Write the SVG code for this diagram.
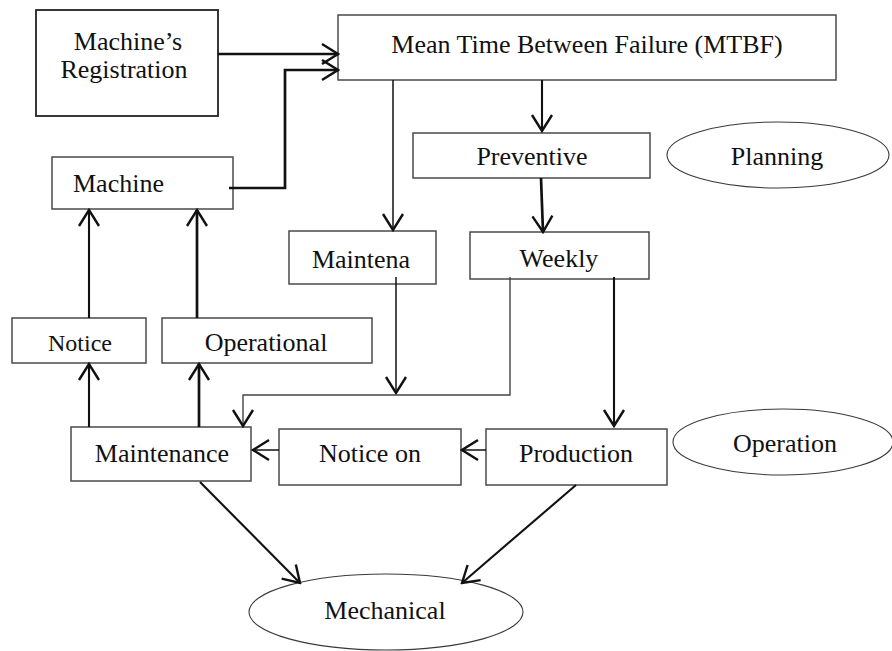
<svg xmlns="http://www.w3.org/2000/svg" width="892" height="651" viewBox="0 0 892 651">
  <style>
    .box { fill: #ffffff; stroke: #4a4a4a; stroke-width: 1.5; }
    .oval { fill: #ffffff; stroke: #3a3a3a; stroke-width: 1.1; }
    .lbl { font-family: "Liberation Serif", "Times New Roman", serif; font-size: 26px; fill: #111111; text-anchor: middle; }
    .edge { fill: none; stroke: #111111; stroke-linecap: butt; stroke-linejoin: miter; }
    .thick { stroke-width: 2.7; }
    .mid { stroke-width: 2.1; }
    .thin { stroke-width: 1.5; }
    .grey { stroke: #444444; stroke-width: 1.4; }
  </style>
  <defs>
    <marker id="open" viewBox="0 0 20 24" refX="18" refY="12" markerWidth="20" markerHeight="24" markerUnits="userSpaceOnUse" orient="auto">
      <path d="M2,2 L18,12 L2,22" fill="none" stroke="#111111" stroke-width="2.4"/>
    </marker>
  </defs>

  <rect width="892" height="651" fill="#ffffff"/>

  <!-- nodes -->
  <g id="registration">
    <rect class="box" x="36" y="10" width="182" height="106" style="stroke:#222;stroke-width:1.8"/>
    <text class="lbl" x="128" y="50">Machine’s</text>
    <text class="lbl" x="124" y="78">Registration</text>
  </g>
  <g id="mtbf">
    <rect class="box" x="338" y="15" width="498" height="65"/>
    <text class="lbl" x="587" y="53">Mean Time Between Failure (MTBF)</text>
  </g>
  <g id="machine">
    <rect class="box" x="52" y="157" width="181" height="52"/>
    <text class="lbl" x="73" y="192" style="text-anchor:start">Machine</text>
  </g>
  <g id="preventive">
    <rect class="box" x="413" y="133" width="237" height="45"/>
    <text class="lbl" x="532" y="165">Preventive</text>
  </g>
  <g id="planning">
    <ellipse class="oval" cx="778" cy="155" rx="111" ry="33"/>
    <text class="lbl" x="777" y="165">Planning</text>
  </g>
  <g id="maintena">
    <rect class="box" x="289" y="231" width="147" height="53"/>
    <text class="lbl" x="361" y="268">Maintena</text>
  </g>
  <g id="weekly">
    <rect class="box" x="470" y="232" width="179" height="47"/>
    <text class="lbl" x="559" y="267">Weekly</text>
  </g>
  <g id="notice">
    <rect class="box" x="12" y="318" width="134" height="45"/>
    <text class="lbl" x="80" y="351" style="font-size:24px">Notice</text>
  </g>
  <g id="operational">
    <rect class="box" x="162" y="318" width="210" height="45"/>
    <text class="lbl" x="266" y="351">Operational</text>
  </g>
  <g id="maintenance">
    <rect class="box" x="71" y="427" width="180" height="54"/>
    <text class="lbl" x="162" y="462">Maintenance</text>
  </g>
  <g id="notice-on">
    <rect class="box" x="279" y="429" width="182" height="56"/>
    <text class="lbl" x="370" y="462">Notice on</text>
  </g>
  <g id="production">
    <rect class="box" x="486" y="429" width="181" height="56"/>
    <text class="lbl" x="576" y="462">Production</text>
  </g>
  <g id="operation">
    <ellipse class="oval" cx="783" cy="442" rx="110" ry="33"/>
    <text class="lbl" x="785" y="452">Operation</text>
  </g>
  <g id="mechanical">
    <ellipse class="oval" cx="386" cy="612" rx="137" ry="38"/>
    <text class="lbl" x="385" y="619">Mechanical</text>
  </g>

  <!-- connectors -->
  <g id="connectors">
    <path class="edge thick" d="M218,54 H338" marker-end="url(#open)"/>
    <path class="edge thick" d="M229,188 H285 V70 H338" marker-end="url(#open)"/>
    <path class="edge thin" d="M393,80 V230" marker-end="url(#open)"/>
    <path class="edge mid" d="M542,80 V131" marker-end="url(#open)"/>
    <path class="edge thick" d="M541,178 L543,232" marker-end="url(#open)"/>
    <path class="edge thin" d="M396,277 V393" marker-end="url(#open)"/>
    <path class="edge grey" d="M510,277 V395 H243 V426" marker-end="url(#open)"/>
    <path class="edge mid" d="M614,277 V426" marker-end="url(#open)"/>
    <path class="edge thin" d="M486,450 H462" marker-end="url(#open)"/>
    <path class="edge thin" d="M279,450 H253" marker-end="url(#open)"/>
    <path class="edge mid" d="M89,427 V364" marker-end="url(#open)"/>
    <path class="edge thick" d="M199,427 V364" marker-end="url(#open)"/>
    <path class="edge mid" d="M89,318 V210" marker-end="url(#open)"/>
    <path class="edge thick" d="M197,318 V210" marker-end="url(#open)"/>
    <path class="edge mid" d="M200,482 L300,583" marker-end="url(#open)"/>
    <path class="edge mid" d="M576,485 L462,583" marker-end="url(#open)"/>
  </g>
</svg>
